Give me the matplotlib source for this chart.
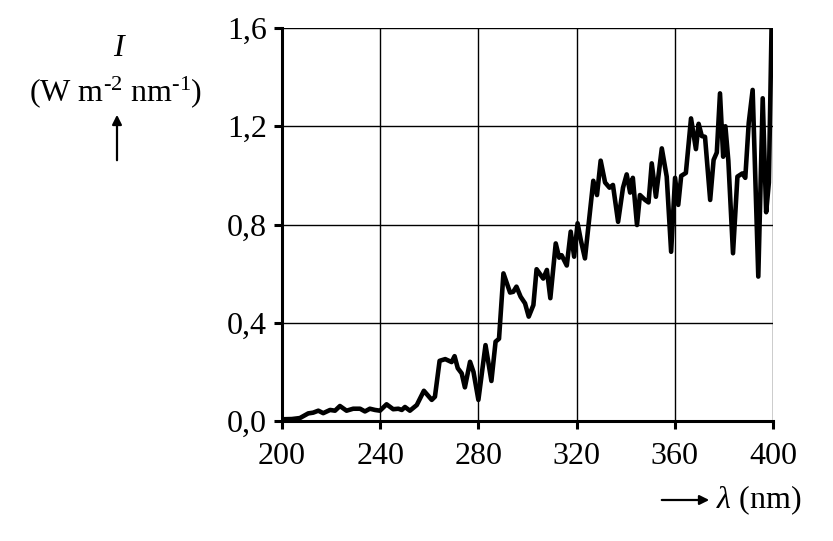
import matplotlib
matplotlib.use("Agg")
import matplotlib.pyplot as plt

# ---- data ----
wavelength = [200, 204, 207.3, 210.7, 212.7, 214.8, 216.8, 219.6, 221.6, 223.6,
              226.3, 229, 231.8, 233.8, 235.8, 237.9, 239.9, 242.6, 245.3, 247.4,
              248.8, 250.1, 252.1, 254.9, 257.8, 261, 262.3, 264.2, 266.5, 269.1,
              270.3, 271.6, 273.2, 274.5, 276.6, 278, 280, 282.9, 285.3, 287,
              288.4, 290.2, 292.9, 294.2, 295.5, 297.2, 299, 300.5, 302.4, 303.7,
              306.4, 307.9, 309.3, 311.5, 312.9, 313.9, 316, 317.6, 319, 320.4,
              321.7, 323.4, 326.8, 328.3, 329.8, 331.6, 333.4, 334.8, 336.9, 338.9,
              340.4, 341.8, 342.9, 344.6, 345.8, 347.9, 349.3, 350.6, 352.3, 354.7,
              356.7, 358.5, 360.1, 361.4, 362.6, 364.5, 366.6, 368.6, 369.7, 371,
              372.3, 374.4, 375.8, 377.1, 378.4, 379.7, 380.6, 381.8, 383.7, 385.5,
              387.5, 388.7, 390.1, 391.7, 394.0, 395.8, 397.2, 398.3, 399.4]
intensity = [0.007, 0.008, 0.012, 0.031, 0.034, 0.042, 0.032, 0.045, 0.042, 0.061,
             0.042, 0.05, 0.05, 0.039, 0.05, 0.045, 0.042, 0.068, 0.048, 0.05,
             0.045, 0.057, 0.042, 0.065, 0.123, 0.086, 0.099, 0.245, 0.252, 0.24,
             0.264, 0.215, 0.194, 0.137, 0.241, 0.2, 0.086, 0.309, 0.163, 0.323,
             0.335, 0.601, 0.523, 0.526, 0.547, 0.506, 0.479, 0.425, 0.472, 0.618,
             0.58, 0.615, 0.5, 0.723, 0.665, 0.675, 0.633, 0.771, 0.669, 0.805,
             0.737, 0.662, 0.978, 0.92, 1.06, 0.971, 0.95, 0.961, 0.811, 0.95,
             1.004, 0.93, 0.99, 0.798, 0.92, 0.9, 0.89, 1.049, 0.913, 1.11,
             0.995, 0.689, 0.99, 0.88, 0.998, 1.01, 1.232, 1.107, 1.21, 1.16,
             1.157, 0.9, 1.063, 1.093, 1.334, 1.076, 1.2, 1.06, 0.683, 0.995,
             1.008, 0.99, 1.213, 1.348, 0.588, 1.314, 0.85, 0.97, 1.599]

x_ticks = [200, 240, 280, 320, 360, 400]
x_tick_labels = ["200", "240", "280", "320", "360", "400"]
y_ticks = [0.0, 0.4, 0.8, 1.2, 1.6]
y_tick_labels = ["0,0", "0,4", "0,8", "1,2", "1,6"]

plt.rcParams['font.family'] = ['Liberation Serif', 'DejaVu Serif']
plt.rcParams['mathtext.fontset'] = 'custom'
plt.rcParams['mathtext.rm'] = 'Liberation Serif'
plt.rcParams['mathtext.it'] = 'Liberation Serif:italic'

fig = plt.figure(figsize=(8.33, 5.41), dpi=100)
ax = fig.add_axes([0.3385, 0.2218, 0.928 - 0.3385, 0.9482 - 0.2218])

ax.plot(wavelength, intensity, color='black', linewidth=3.3,
        solid_joinstyle='round', solid_capstyle='round', zorder=3)

ax.set_xlim(200, 400)
ax.set_ylim(0, 1.6)
ax.set_xticks(x_ticks)
ax.set_xticklabels(x_tick_labels)
ax.set_yticks(y_ticks)
ax.set_yticklabels(y_tick_labels)
ax.grid(True, color='black', linewidth=1.0)
ax.set_axisbelow(True)

for s in ['top', 'right']:
    ax.spines[s].set_visible(False)
for s in ['left', 'bottom']:
    ax.spines[s].set_linewidth(2.2)
    ax.spines[s].set_zorder(4)

ax.tick_params(axis='both', direction='out', length=6, width=2.2,
               labelsize=23, colors='black')
ax.tick_params(axis='x', pad=9)
ax.tick_params(axis='y', pad=5)

# y-axis label block
fig.text(118 / 833, 1 - 48 / 541, 'I', fontsize=23, style='italic',
         ha='center', va='center')
fig.text(116 / 833, 1 - 92 / 541,
         r'(W m$^{\text{-2}}$ nm$^{\text{-1}}$)', fontsize=23,
         ha='center', va='center')
fig.add_artist(matplotlib.patches.FancyArrowPatch(
    (117 / 833, 1 - 163 / 541), (117 / 833, 1 - 112 / 541),
    transform=fig.transFigure, arrowstyle='-|>', mutation_scale=14,
    linewidth=1.6, color='black'))

# x-axis label block
fig.add_artist(matplotlib.patches.FancyArrowPatch(
    (659 / 833, 1 - 500 / 541), (712 / 833, 1 - 500 / 541),
    transform=fig.transFigure, arrowstyle='-|>', mutation_scale=14,
    linewidth=1.6, color='black'))
fig.text(716 / 833, 1 - 500 / 541, r'$\mathit{\lambda}$ (nm)', fontsize=23,
         ha='left', va='center')

fig.savefig('out.png', dpi=100)
